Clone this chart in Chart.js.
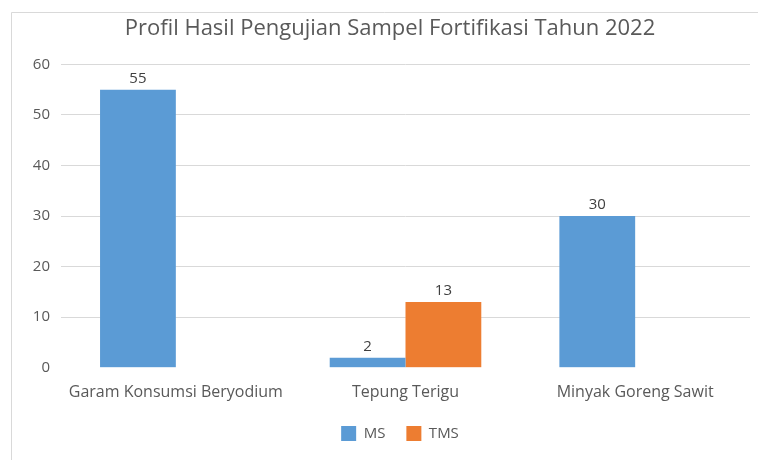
<!DOCTYPE html>
<html>
<head>
<meta charset="utf-8">
<title>Profil Hasil Pengujian Sampel Fortifikasi Tahun 2022</title>
<script src="https://cdn.jsdelivr.net/npm/chart.js@4/dist/chart.umd.min.js"></script>
<style>
    html, body { margin: 0; padding: 0; background: #fff; }
    #wrap { position: relative; width: 758px; height: 460px; }
</style>
</head>
<body>
<div id="wrap"><canvas id="myChart"></canvas></div>
<script>
    const categories = ["Garam Konsumsi Beryodium", "Tepung Terigu", "Minyak Goreng Sawit"];
    const msValues = [55, 2, 30];
    const tmsValues = [null, 13, null];
    const yTicks = [0, 10, 20, 30, 40, 50, 60];

    const textColor = "#595959";
    const fontFamily = "'Open Sans', sans-serif";

    // thin frame around the chart area, running off the right and bottom edges
    const framePlugin = {
        id: "frame",
        beforeDraw(chart) {
            const ctx = chart.ctx;
            ctx.save();
            ctx.fillStyle = "#ffffff";
            ctx.fillRect(0, 0, chart.width, chart.height);
            ctx.strokeStyle = "#d9d9d9";
            ctx.lineWidth = 1;
            ctx.beginPath();
            ctx.moveTo(11.5, chart.height);
            ctx.lineTo(11.5, 12.5);
            ctx.lineTo(chart.width, 12.5);
            ctx.stroke();
            ctx.restore();
        }
    };

    // nudge the legend a little to the right of the title axis
    const legendShift = {
        id: "legendShift",
        afterLayout(chart) {
            if (chart.legend) {
                chart.legend.left += 10;
                chart.legend.right += 10;
            }
        }
    };

    // value above each bar
    const valueLabels = {
        id: "valueLabels",
        afterDatasetsDraw(chart) {
            const ctx = chart.ctx;
            ctx.save();
            ctx.font = "15px " + fontFamily;
            ctx.fillStyle = "#404040";
            ctx.textAlign = "center";
            ctx.textBaseline = "middle";
            chart.data.datasets.forEach((ds, i) => {
                chart.getDatasetMeta(i).data.forEach((bar, j) => {
                    const v = ds.data[j];
                    if (v === null || v === undefined) return;
                    ctx.fillText(String(v), bar.x, bar.y - 11);
                });
            });
            ctx.restore();
        }
    };

    new Chart("myChart", {
        type: "bar",
        data: {
            labels: categories,
            datasets: [{
                label: "MS",
                data: msValues,
                backgroundColor: "#5b9bd5",
                categoryPercentage: 0.66,
                barPercentage: 1.0
            }, {
                label: "TMS",
                data: tmsValues,
                backgroundColor: "#ed7d31",
                categoryPercentage: 0.66,
                barPercentage: 1.0
            }]
        },
        plugins: [framePlugin, legendShift, valueLabels],
        options: {
            responsive: true,
            maintainAspectRatio: false,
            animation: false,
            layout: {
                padding: { left: 30, right: 8, top: 4, bottom: 9 }
            },
            plugins: {
                title: {
                    display: true,
                    text: "Profil Hasil Pengujian Sampel Fortifikasi Tahun 2022",
                    color: textColor,
                    font: { family: fontFamily, size: 22, weight: "normal" },
                    padding: { top: 12, bottom: 22 }
                },
                legend: {
                    position: "bottom",
                    labels: {
                        color: textColor,
                        font: { family: fontFamily, size: 15 },
                        boxWidth: 15,
                        boxHeight: 15,
                        padding: 21
                    }
                },
                tooltip: { enabled: false }
            },
            scales: {
                x: {
                    afterFit(scale) { scale.height -= 4; },
                    grid: { display: false },
                    border: { display: false },
                    ticks: {
                        color: textColor,
                        font: { family: fontFamily, size: 16 },
                        padding: 7,
                        maxRotation: 0
                    }
                },
                y: {
                    min: 0,
                    max: 60,
                    afterFit(scale) { scale.width = 31; },
                    afterBuildTicks(scale) {
                        scale.ticks = yTicks.map(v => ({ value: v }));
                    },
                    grid: {
                        drawTicks: false,
                        color: ctx => ctx.tick && ctx.tick.value === 0 ? "rgba(0,0,0,0)" : "#d9d9d9"
                    },
                    border: { display: false },
                    ticks: {
                        color: textColor,
                        font: { family: fontFamily, size: 15 },
                        padding: 11
                    }
                }
            }
        }
    });
</script>
</body>
</html>
